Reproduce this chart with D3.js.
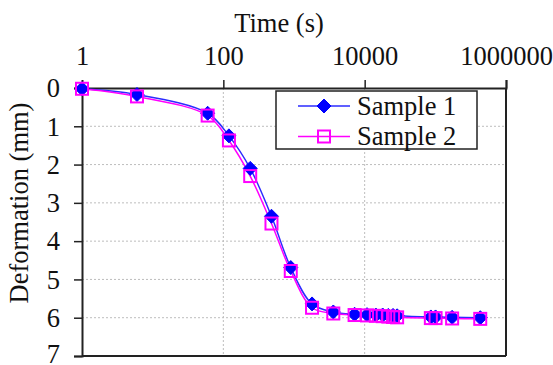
<!DOCTYPE html>
<html>
<head>
<meta charset="utf-8">
<script src="https://cdn.jsdelivr.net/npm/d3@7"></script>
<style>
  body { margin: 0; background: #fff; }
  text { font-family: "Liberation Serif", "Times New Roman", serif; fill: #111; }
</style>
</head>
<body>
<div id="chart"></div>
<script>
// time readings (s)
const times = [1, 6, 60, 120, 240, 480, 900, 1800, 3600, 7200, 10800, 14400, 18000, 21600, 25200, 28800, 86400, 100800, 172800, 432000];
// deformation (mm)
const sample1 = [0.02, 0.17, 0.66, 1.25, 2.1, 3.35, 4.69, 5.64, 5.85, 5.91, 5.92, 5.93, 5.93, 5.94, 5.94, 5.95, 5.98, 5.98, 5.99, 6.0];
const sample2 = [0.02, 0.22, 0.72, 1.37, 2.3, 3.54, 4.78, 5.74, 5.89, 5.93, 5.94, 5.95, 5.96, 5.97, 5.98, 5.99, 6.01, 6.01, 6.02, 6.03];
const xTicks = [1, 100, 10000, 1000000];
const yTicks = [0, 1, 2, 3, 4, 5, 6, 7];
const seriesNames = ['Sample 1', 'Sample 2'];

const W = 553, H = 365;
const margin = { top: 88, right: 47, bottom: 9, left: 82 };
const width = W - margin.left - margin.right;
const height = H - margin.top - margin.bottom;
const fontSize = 26.5;

const svg = d3.select('#chart').append('svg')
  .attr('width', W)
  .attr('height', H);

const g = svg.append('g')
  .attr('transform', `translate(${margin.left},${margin.top})`);

const x = d3.scaleLog().domain([1, 1000000]).range([0, width]);
const y = d3.scaleLinear().domain([0, 7]).range([0, height]);

// grid
g.append('g').selectAll('line.hg')
  .data(yTicks.slice(1, -1))
  .join('line')
  .attr('x1', 0).attr('x2', width)
  .attr('y1', d => y(d)).attr('y2', d => y(d))
  .attr('stroke', '#bdbdbd').attr('stroke-dasharray', '2,2');

g.append('g').selectAll('line.vg')
  .data(xTicks.slice(1, -1))
  .join('line')
  .attr('x1', d => x(d)).attr('x2', d => x(d))
  .attr('y1', 0).attr('y2', height)
  .attr('stroke', '#bdbdbd').attr('stroke-dasharray', '2,2');

// frame (bottom + right)
g.append('line').attr('x1', 0).attr('x2', width).attr('y1', height).attr('y2', height)
  .attr('stroke', '#222').attr('stroke-width', 2);
g.append('line').attr('x1', width).attr('x2', width).attr('y1', 0).attr('y2', height)
  .attr('stroke', '#222').attr('stroke-width', 2);

// axes
const xAxis = g.append('g')
  .call(d3.axisTop(x).tickValues(xTicks).tickFormat(d3.format('d')).tickSize(8).tickPadding(15));
const yAxis = g.append('g')
  .call(d3.axisLeft(y).tickValues(yTicks).tickFormat(d3.format('d')).tickSize(8).tickPadding(14));

[xAxis, yAxis].forEach(a => {
  a.attr('font-size', fontSize).attr('font-family', null);
  a.select('.domain').attr('stroke', '#222').attr('stroke-width', 2);
  a.selectAll('.tick line').attr('stroke', '#222').attr('stroke-width', 1.5);
  a.selectAll('.tick text').attr('fill', '#111');
});
xAxis.selectAll('.tick').filter(d => d === 1).select('line').remove();
yAxis.selectAll('.tick text').attr('dy', d => d === 7 ? '0.26em' : '0.33em');

// titles
svg.append('text')
  .attr('x', 279).attr('y', 32)
  .attr('text-anchor', 'middle')
  .attr('font-size', fontSize)
  .text('Time (s)');

svg.append('text')
  .attr('transform', 'translate(28,203) rotate(-90)')
  .attr('text-anchor', 'middle')
  .attr('font-size', fontSize)
  .text('Deformation (mm)');

// series
const series = [
  { name: seriesNames[0], values: sample1, color: '#0000ff', line: '#2b2bff', marker: 'diamond' },
  { name: seriesNames[1], values: sample2, color: '#ff00ff', line: '#ff00ff', marker: 'square' }
];

const line = d3.line()
  .x(d => x(d[0]))
  .y(d => y(d[1]))
  .curve(d3.curveCatmullRom.alpha(0.5));

function drawMarker(sel, type, color) {
  if (type === 'diamond') {
    sel.append('path')
      .attr('d', 'M0,-7L7,0L0,7L-7,0Z')
      .attr('fill', color).attr('stroke', color).attr('stroke-width', 1);
  } else {
    sel.append('rect')
      .attr('x', -6).attr('y', -6).attr('width', 12).attr('height', 12)
      .attr('fill', 'none').attr('stroke', color).attr('stroke-width', 2);
  }
}

series.forEach(s => {
  const pts = times.map((t, i) => [t, s.values[i]]);
  g.append('path')
    .datum(pts)
    .attr('fill', 'none')
    .attr('stroke', s.line)
    .attr('stroke-width', 1.5)
    .attr('d', line);
});

series.forEach(s => {
  const pts = times.map((t, i) => [t, s.values[i]]);
  g.append('g').selectAll('g')
    .data(pts)
    .join('g')
    .attr('transform', d => `translate(${x(d[0])},${y(d[1])})`)
    .each(function () { drawMarker(d3.select(this), s.marker, s.color); });
});

// legend
const lg = svg.append('g').attr('transform', 'translate(276,91)');
lg.append('rect')
  .attr('width', 201).attr('height', 58)
  .attr('fill', '#fff').attr('stroke', '#222').attr('stroke-width', 1.5);
series.forEach((s, i) => {
  const row = lg.append('g').attr('transform', `translate(0,${15 + i * 30.5})`);
  row.append('line').attr('x1', 22).attr('x2', 74).attr('y1', 0).attr('y2', 0)
    .attr('stroke', s.line).attr('stroke-width', 1.5);
  drawMarker(row.append('g').attr('transform', 'translate(48,0)'), s.marker, s.color);
  row.append('text')
    .attr('x', 81).attr('y', 0).attr('dy', '0.33em')
    .attr('font-size', fontSize)
    .text(s.name);
});
</script>
</body>
</html>
